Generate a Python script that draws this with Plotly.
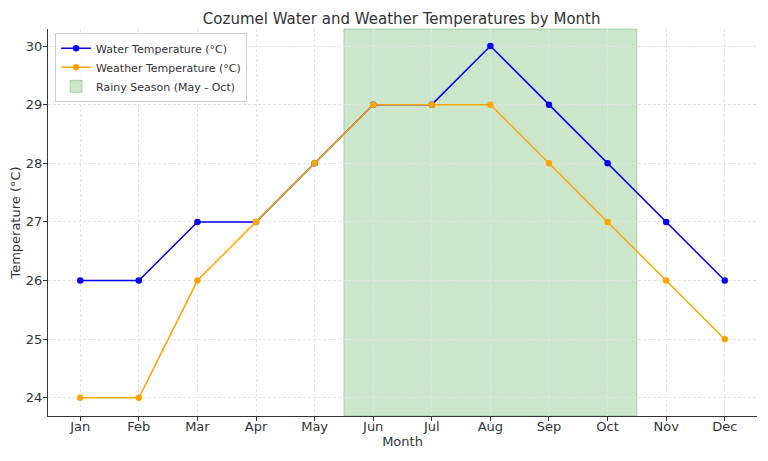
import plotly.graph_objects as go

# month categories and readings
months = ["Jan", "Feb", "Mar", "Apr", "May", "Jun", "Jul", "Aug", "Sep", "Oct", "Nov", "Dec"]
water_temp = [26, 26, 27, 27, 28, 29, 29, 30, 29, 28, 27, 26]
weather_temp = [24, 24, 26, 27, 28, 29, 29, 29, 28, 27, 26, 25]
rainy_start = "May"
rainy_end = "Oct"

i0 = months.index(rainy_start) + 0.5
i1 = months.index(rainy_end) + 0.5

fig = go.Figure()
fig.add_trace(go.Scatter(x=months, y=water_temp, mode="lines+markers",
                         name="Water Temperature (°C)",
                         line=dict(color="blue", width=1.5), marker=dict(size=6.5)))
fig.add_trace(go.Scatter(x=months, y=weather_temp, mode="lines+markers",
                         name="Weather Temperature (°C)",
                         line=dict(color="orange", width=1.5), marker=dict(size=6.5)))

fig.add_shape(type="rect", xref="x", yref="paper", x0=i0, x1=i1, y0=0, y1=1,
              fillcolor="rgba(0,128,0,0.2)", line=dict(color="rgba(0,128,0,0.25)", width=1),
              layer="below", showlegend=True, name="Rainy Season (May - Oct)")

axis_common = dict(showline=True, linecolor="#333333", linewidth=1, ticks="outside",
                   ticklen=4, tickcolor="#333333", showgrid=True, gridcolor="#e4e4e4",
                   griddash="3px,2px", gridwidth=1, zeroline=False, mirror=False,
                   automargin=False, tickfont=dict(size=13, color="#333333"))

# page body has an 8px margin, so the figure is sized to fit the window
fig.update_layout(
    width=760, height=453,
    margin=dict(l=40, r=11, t=21, b=45),
    paper_bgcolor="white", plot_bgcolor="white",
    font=dict(family="DejaVu Sans", color="#333333"),
    title=dict(text="Cozumel Water and Weather Temperatures by Month", x=0.518, y=0.976,
               xanchor="center", yanchor="middle", font=dict(size=15, color="#333333")),
    xaxis=dict(axis_common, range=[-0.55, 11.55], ticklabelstandoff=-6,
               title=dict(text="Month", font=dict(size=13), standoff=0)),
    yaxis=dict(axis_common, range=[23.69, 30.29], dtick=1, ticklabelstandoff=-2,
               title=dict(text="Temperature (°C)", font=dict(size=13), standoff=6)),
    legend=dict(x=0.01, y=0.99, xanchor="left", yanchor="top", bgcolor="rgba(255,255,255,0.8)",
                bordercolor="#cccccc", borderwidth=1, font=dict(size=11, color="#333333"),
                tracegroupgap=0, itemwidth=30),
)

fig.write_html("out.html")
